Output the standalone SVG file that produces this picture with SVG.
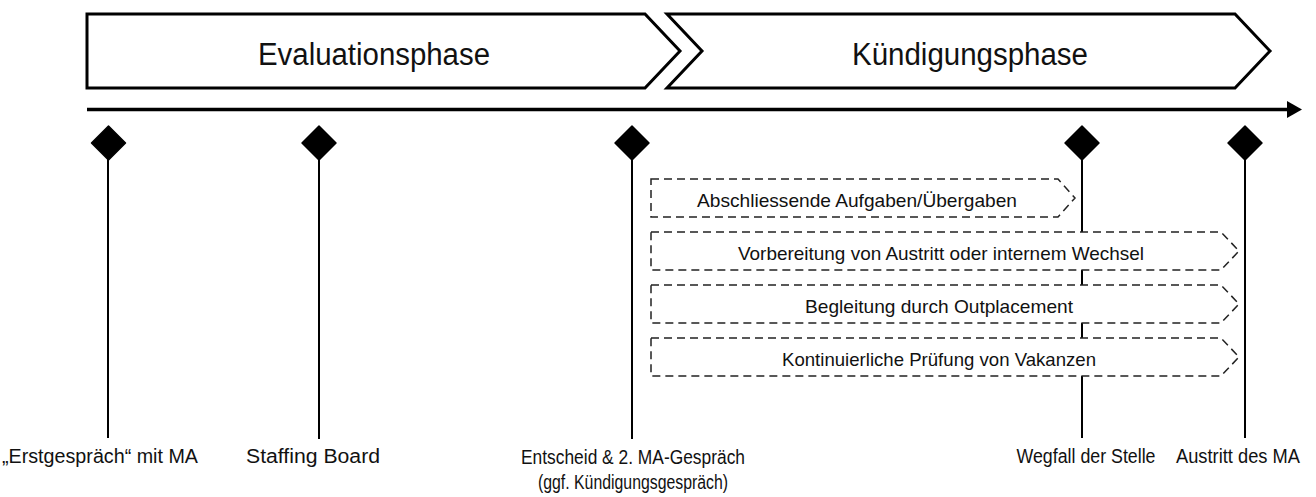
<svg xmlns="http://www.w3.org/2000/svg" width="1316" height="497" viewBox="0 0 1316 497">
<style>
text{font-family:"Liberation Sans Narrow","Liberation Sans",Arial,sans-serif;fill:#111}
.phase{fill:#fff;stroke:#000;stroke-width:3;stroke-linejoin:miter}
.title{font-size:31px;text-anchor:middle}
.task{fill:#fff;stroke:#222;stroke-width:1.5;stroke-dasharray:8 5}
.tt{font-size:19px;text-anchor:middle}
.lbl{font-size:20px;text-anchor:middle}
.stem{stroke:#000;stroke-width:2}
.dia{fill:#000;stroke:#000;stroke-width:1.5;stroke-linejoin:round}
</style>
<g id="phase-evaluation">
<path class="phase" d="M87,14 H645 L680,51 L645,88 H87 Z"/>
<text class="title" x="374" y="65" textLength="232" lengthAdjust="spacingAndGlyphs">Evaluationsphase</text>
</g>
<g id="phase-kuendigung">
<path class="phase" d="M667,14 H1235 L1270,51 L1235,88 H667 L702,51 Z"/>
<text class="title" x="970" y="65" textLength="236" lengthAdjust="spacingAndGlyphs">Kündigungsphase</text>
</g>
<g id="connectors">
<line x1="87" y1="109.5" x2="1290" y2="109.5" stroke="#000" stroke-width="3.5"/>
<polygon points="1287,101 1302,109.5 1287,118" fill="#000"/>
<line class="stem" x1="108" y1="143" x2="108" y2="438"/>
<line class="stem" x1="319" y1="143" x2="319" y2="439"/>
<line class="stem" x1="632" y1="143" x2="632" y2="439"/>
<line class="stem" x1="1082" y1="143" x2="1082" y2="438"/>
<line class="stem" x1="1245" y1="143" x2="1245" y2="438"/>
</g>
<g id="m-erstgespraech">
<path class="dia" d="M108.5,126 L125.5,143 L108.5,160 L91.5,143 Z"/>
<text class="lbl" x="100" y="463" textLength="196" lengthAdjust="spacingAndGlyphs">„Erstgespräch“ mit MA</text>
</g>
<g id="m-staffing">
<path class="dia" d="M319,126 L336,143 L319,160 L302,143 Z"/>
<text class="lbl" x="313" y="463" textLength="134" lengthAdjust="spacingAndGlyphs">Staffing Board</text>
</g>
<g id="m-entscheid">
<path class="dia" d="M632,126 L649,143 L632,160 L615,143 Z"/>
<text class="lbl" x="633" y="464" textLength="224" lengthAdjust="spacingAndGlyphs">Entscheid &amp; 2. MA-Gespräch</text>
<text class="lbl" x="633" y="489" textLength="190" lengthAdjust="spacingAndGlyphs">(ggf. Kündigungsgespräch)</text>
</g>
<g id="m-wegfall">
<path class="dia" d="M1082,126 L1099,143 L1082,160 L1065,143 Z"/>
<text class="lbl" x="1086" y="463" textLength="139" lengthAdjust="spacingAndGlyphs">Wegfall der Stelle</text>
</g>
<g id="m-austritt">
<path class="dia" d="M1245,126 L1262,143 L1245,160 L1228,143 Z"/>
<text class="lbl" x="1238" y="463" textLength="124" lengthAdjust="spacingAndGlyphs">Austritt des MA</text>
</g>
<g id="task-abschluss">
<path class="task" d="M651,179 H1058 L1075,198 L1058,217 H651 Z"/>
<text class="tt" x="857" y="207" textLength="320" lengthAdjust="spacingAndGlyphs">Abschliessende Aufgaben/Übergaben</text>
</g>
<g id="task-vorbereitung">
<path class="task" d="M651,232 H1221 L1239,251 L1221,270 H651 Z"/>
<text class="tt" x="941" y="260" textLength="406" lengthAdjust="spacingAndGlyphs">Vorbereitung von Austritt oder internem Wechsel</text>
</g>
<g id="task-outplacement">
<path class="task" d="M651,285 H1221 L1239,304 L1221,323 H651 Z"/>
<text class="tt" x="939" y="313" textLength="268" lengthAdjust="spacingAndGlyphs">Begleitung durch Outplacement</text>
</g>
<g id="task-vakanzen">
<path class="task" d="M651,338 H1221 L1239,357 L1221,376 H651 Z"/>
<text class="tt" x="939" y="366" textLength="314" lengthAdjust="spacingAndGlyphs">Kontinuierliche Prüfung von Vakanzen</text>
</g>
</svg>
